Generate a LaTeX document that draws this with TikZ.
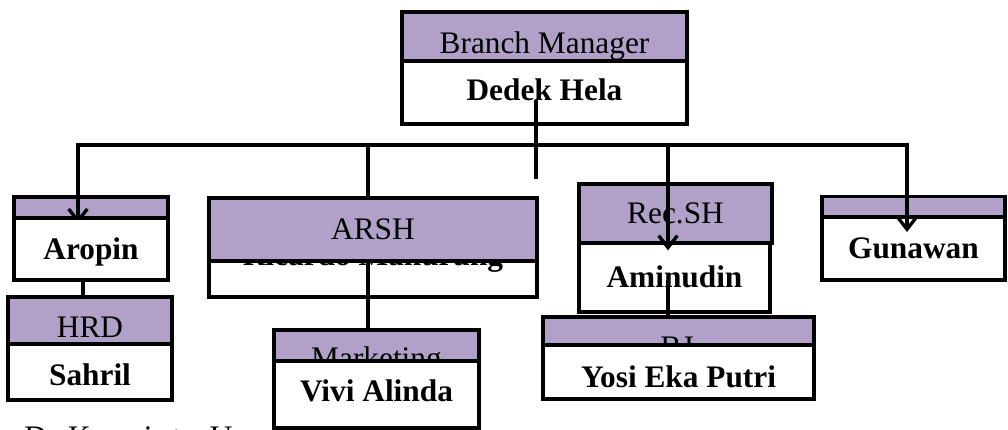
\documentclass[tikz,border=0pt]{standalone}
\usepackage{fontspec}
\setmainfont{Liberation Serif}
\usetikzlibrary{arrows.meta}
\definecolor{headpurple}{HTML}{B1A0C7}
\newcommand{\chartfont}{\fontsize{23.5}{28}\selectfont}
\tikzset{
  headbox/.style={draw, fill=headpurple, line width=2.5pt, inner sep=0pt,
    font=\chartfont, text height=15.5pt, text depth=0pt},
  namebox/.style={headbox, fill=white, font=\chartfont\bfseries},
  boxsize/.style 2 args={minimum width=#1*0.75pt, minimum height=#2*0.75pt},
  link/.style={line width=2.5pt},
  arr/.style={link, -{Straight Barb[length=9pt,width=14pt]}},
  hidtext/.style={inner sep=0pt, font=\chartfont, anchor=base}
}
\begin{document}
\begin{tikzpicture}[x=0.75pt, y=-0.75pt]
\clip (0,0) rectangle (1008,429);
% Branch Manager
\node[headbox, boxsize={285}{49}, text height=25.3pt] (bmHead) at (544.5,36.5) {Branch Manager};
\node[namebox, boxsize={285}{63}, text depth=3.75pt] (bmName) at (544.5,92.5) {Dedek Hela};
\coordinate (bmOut) at (536,100);
\coordinate (bmEnd) at (536,179);
\draw[link] (bmOut) -- (bmEnd);

% bus line
\coordinate (busL) at (78,145);
\coordinate (busR) at (907,145);
\draw[link, line cap=rect] (busL) -- (busR);

% Aropin and HRD
\node[headbox, boxsize={154}{21}] (aropinHead) at (91,207.5) {};
\draw[arr] (busL) -- ([yshift=-3pt]aropinHead.south -| busL);
\node[namebox, boxsize={154}{62}] (aropinName) at (91,249) {Aropin};
\node[headbox, boxsize={164}{47}, text height=26pt] (hrdHead) at (90,320.5) {HRD};
\node[namebox, boxsize={164}{56}, text height=20pt] (hrdName) at (90,372) {Sahril};
\draw[link] ([xshift=-6pt]aropinName.south) -- ([xshift=-6pt]aropinName.south |- hrdHead.north);

% ARSH and Marketing
\node[headbox, boxsize={205}{31}] (mktHead) at (376.5,345.5) {};
\node[hidtext] (mktText) at (376.5,368.7) {Marketing};
\node[namebox, boxsize={205}{67}, text depth=5.25pt] (mktName) at (376.5,394.5) {Vivi Alinda};
\node[namebox, boxsize={328}{99}, text height=26.75pt] (arshName) at (373,247.5) {Ricardo Manurung};
\coordinate (arshIn) at (368,145);
\draw[link] (arshIn) -- (arshIn |- mktHead.north);
\node[headbox, boxsize={328}{63}] (arshHead) at (373,229.5) {ARSH};

% Rec.SH and BJ
\node[headbox, boxsize={271}{28}] (bjHead) at (678.5,331) {};
\node[hidtext] (bjText) at (677,357.7) {BJ};
\node[namebox, boxsize={271}{54}, text height=23pt] (bjName) at (678.5,372) {Yosi Eka Putri};
\node[headbox, boxsize={193}{59}] (recHead) at (675.5,213.5) {Rec.SH};
\node[namebox, boxsize={191}{69}] (recName) at (674.5,277.5) {Aminudin};
\coordinate (recIn) at (668,145);
\coordinate (recOut) at (668,280);
\draw[link] (recOut) -- (recOut |- bjHead.north);
\draw[arr] (recIn) -- ([yshift=-6.75pt]recName.north -| recIn);

% Gunawan
\node[headbox, boxsize={183}{20}] (gunHead) at (913.5,207) {};
\node[namebox, boxsize={183}{63}] (gunName) at (913.5,248.5) {Gunawan};
\draw[arr] (busR) -- ([yshift=-9.75pt]gunHead.south -| busR);

% text below the chart
\node[hidtext, anchor=base west, font=\chartfont\addfontfeature{LetterSpace=9}] (kurnText) at (24,447) {D. Kurniato U};
\end{tikzpicture}
\end{document}
